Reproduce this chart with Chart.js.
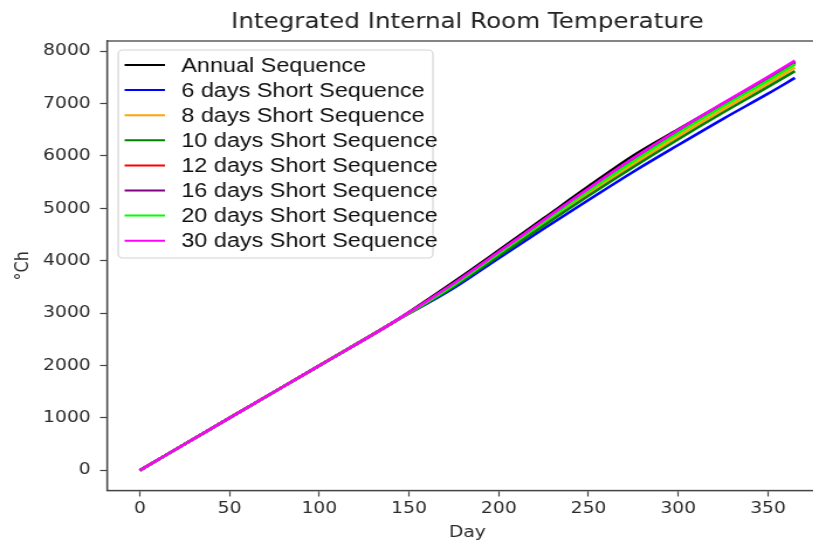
<!DOCTYPE html>
<html><head><meta charset="utf-8">
<script src="https://cdn.jsdelivr.net/npm/chart.js@4/dist/chart.umd.min.js"></script>
<style>
html,body{margin:0;padding:0;background:#fff;overflow:hidden;width:813px;height:543px}
#wrap{position:absolute;left:0;top:0;width:730px;height:543px;transform:scaleX(1.17);transform-origin:0 0}
canvas{display:block}
</style></head><body>
<div id="wrap"><canvas id="c" width="730" height="543" style="width:730px;height:543px"></canvas></div>
<script>
const titleText = 'Integrated Internal Room Temperature';
const xTitle = 'Day';
const yTitle = '°Ch';
const days = [0, 50, 100, 140, 175, 200, 225, 250, 275, 300, 325, 350, 365];
const annual = [0, 1000, 2000, 2800, 3600, 4200, 4810, 5420, 6010, 6510, 7000, 7490, 7790];
const short6 = [0, 1000, 2000, 2800, 3480, 4050, 4610, 5160, 5700, 6210, 6710, 7190, 7490];
const short8 = [0, 1000, 2000, 2800, 3520, 4110, 4700, 5280, 5840, 6380, 6890, 7380, 7690];
const short10 = [0, 1000, 2000, 2800, 3510, 4090, 4670, 5240, 5790, 6320, 6830, 7320, 7620];
const short12 = [0, 1000, 2000, 2800, 3550, 4150, 4750, 5350, 5920, 6460, 6970, 7460, 7770];
const short16 = [0, 1000, 2000, 2800, 3560, 4160, 4770, 5370, 5940, 6480, 6990, 7490, 7800];
const short20 = [0, 1000, 2000, 2800, 3540, 4140, 4740, 5330, 5900, 6440, 6950, 7440, 7750];
const short30 = [0, 1000, 2000, 2800, 3570, 4170, 4780, 5380, 5960, 6500, 7010, 7510, 7820];
const seriesNames = ['Annual Sequence', '6 days Short Sequence', '8 days Short Sequence', '10 days Short Sequence', '12 days Short Sequence', '16 days Short Sequence', '20 days Short Sequence', '30 days Short Sequence'];
const seriesValues = [annual, short6, short8, short10, short12, short16, short20, short30];
const seriesColors = ['#000000', '#0000ff', '#ffa500', '#008000', '#ff0000', '#800080', '#00ff00', '#ff00ff'];
const xTicks = [0, 50, 100, 150, 200, 250, 300, 350];
const yTicks = [0, 1000, 2000, 3000, 4000, 5000, 6000, 7000, 8000];

const datasets = seriesValues.map((vals, i) => ({
  label: seriesNames[i],
  data: days.map((d, j) => ({x: d, y: vals[j]})),
  borderColor: seriesColors[i],
  backgroundColor: seriesColors[i],
  borderWidth: 2.6,
  pointRadius: 0,
  cubicInterpolationMode: 'monotone',
  fill: false,
  order: seriesValues.length - i
}));

const deco = {
  id: 'deco',
  afterDraw(chart) {
    const ctx = chart.ctx, a = chart.chartArea;
    ctx.save();
    ctx.strokeStyle = '#444';
    ctx.lineWidth = 1.3;
    ctx.strokeRect(a.left, a.top, a.right - a.left, a.bottom - a.top);
    ctx.fillStyle = '#222';
    ctx.font = '21px "DejaVu Sans"';
    ctx.textAlign = 'center';
    ctx.textBaseline = 'alphabetic';
    ctx.fillText(titleText, (a.left + a.right) / 2, 28);
    // legend
    const bx = 101, by = 50, bw = 269, bh = 208, r = 4;
    ctx.beginPath();
    ctx.moveTo(bx + r, by);
    ctx.arcTo(bx + bw, by, bx + bw, by + bh, r);
    ctx.arcTo(bx + bw, by + bh, bx, by + bh, r);
    ctx.arcTo(bx, by + bh, bx, by, r);
    ctx.arcTo(bx, by, bx + bw, by, r);
    ctx.closePath();
    ctx.fillStyle = 'rgba(255,255,255,0.85)';
    ctx.fill();
    ctx.strokeStyle = '#d4d4d4';
    ctx.lineWidth = 1.2;
    ctx.stroke();
    ctx.font = '20px "Liberation Sans", Arial, sans-serif';
    ctx.textAlign = 'left';
    ctx.textBaseline = 'middle';
    chart.data.datasets.forEach((ds, i) => {
      const y = 65 + i * 25.1;
      ctx.strokeStyle = ds.borderColor;
      ctx.lineWidth = 2;
      ctx.beginPath();
      ctx.moveTo(106.5, y);
      ctx.lineTo(141, y);
      ctx.stroke();
      ctx.fillStyle = '#111';
      ctx.fillText(ds.label, 155, y + 1);
    });
    ctx.restore();
  }
};

new Chart(document.getElementById('c'), {
  type: 'line',
  data: {datasets},
  plugins: [deco],
  options: {
    responsive: false,
    animation: false,
    devicePixelRatio: 1,
    layout: {padding: {left: 0, top: 41, right: 22.6, bottom: 0}},
    plugins: {legend: {display: false}, title: {display: false}, tooltip: {enabled: false}},
    scales: {
      x: {
        type: 'linear',
        min: -18.25,
        max: 383.25,
        afterBuildTicks: s => { s.ticks = xTicks.map(v => ({value: v})); },
        afterFit: s => { s.height = 52.5; },
        grid: {drawOnChartArea: false, drawTicks: true, tickLength: 6, tickColor: '#444', tickWidth: 1.2},
        border: {display: true, color: '#444', width: 1.3},
        ticks: {padding: 3, maxRotation: 0, autoSkip: false, color: '#2a2a2a', font: {family: 'DejaVu Sans', size: 16}, callback: v => String(v)},
        title: {display: true, text: xTitle, color: '#2a2a2a', font: {family: 'DejaVu Sans', size: 16}, padding: {top: 0, bottom: 1}}
      },
      y: {
        type: 'linear',
        min: -385,
        max: 8195,
        afterBuildTicks: s => { s.ticks = yTicks.map(v => ({value: v})); },
        afterFit: s => { s.width = 91.5; },
        grid: {drawOnChartArea: false, drawTicks: true, tickLength: 6, tickColor: '#444', tickWidth: 1.2},
        border: {display: true, color: '#444', width: 1.3},
        ticks: {padding: 8, autoSkip: false, color: '#2a2a2a', font: {family: 'DejaVu Sans', size: 16}, callback: v => String(v)},
        title: {display: true, text: yTitle, color: '#2a2a2a', font: {family: 'DejaVu Sans', size: 16}, padding: {top: 10, bottom: 0}}
      }
    }
  }
});
</script>
</body></html>
